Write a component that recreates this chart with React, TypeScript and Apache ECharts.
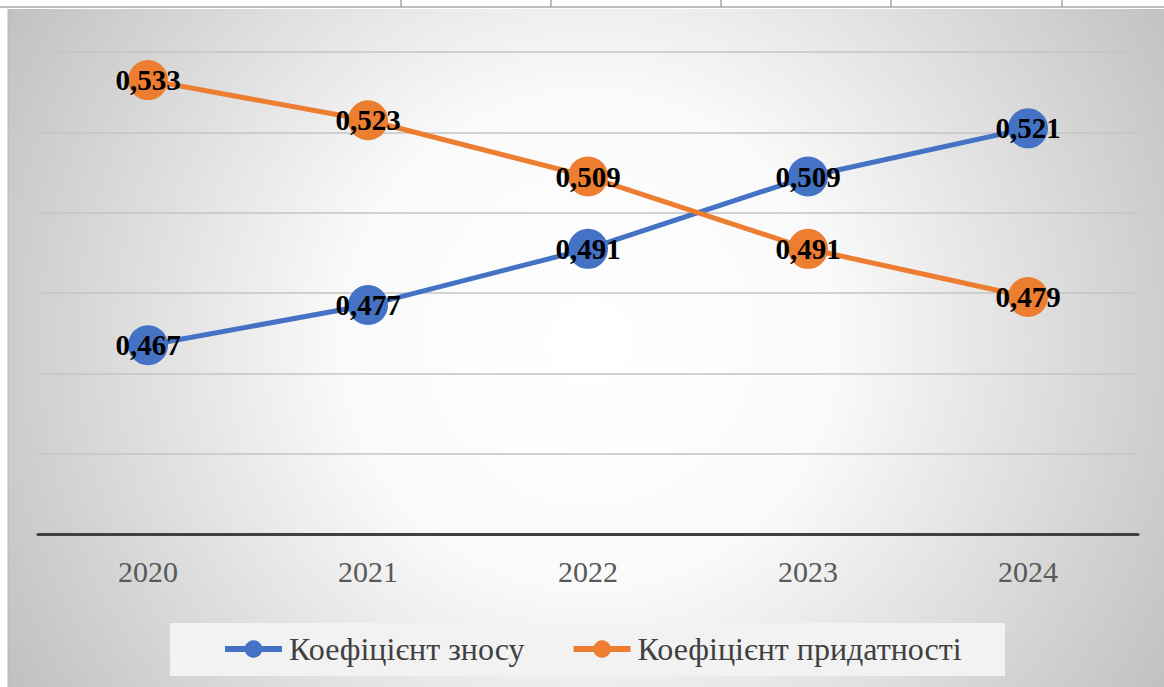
import React, { useEffect, useRef } from "react";
import * as echarts from "echarts";

const years = ["2020", "2021", "2022", "2023", "2024"];
const wearValues = [0.467, 0.477, 0.491, 0.509, 0.521];
const fitnessValues = [0.533, 0.523, 0.509, 0.491, 0.479];
const seriesNames = ["Коефіцієнт зносу", "Коефіцієнт придатності"];
const tableLinesX = [401, 551, 721, 891, 1062];

const SERIF = "'Liberation Serif', 'Times New Roman', serif";

export default function App() {
  const ref = useRef<HTMLDivElement>(null);
  useEffect(() => {
    if (!ref.current) return;
    const chart = echarts.init(ref.current, null, { renderer: "svg" });
    const fmt = (p: any) => Number(p.value).toFixed(3).replace(".", ",");
    const mkSeries = (name: string, data: number[], color: string) => ({
      name,
      type: "line",
      data,
      symbol: "circle",
      symbolSize: 40,
      itemStyle: { color },
      lineStyle: { color, width: 5 },
      label: {
        show: true,
        position: "inside",
        formatter: fmt,
        color: "#000",
        fontFamily: SERIF,
        fontWeight: "bold",
        fontSize: 29,
      },
    });
    chart.setOption({
      animation: false,
      graphic: [
        {
          type: "rect",
          z: -10,
          silent: true,
          shape: { x: 8, y: 9, width: 1156, height: 678 },
          style: {
            fill: new echarts.graphic.RadialGradient(
              590,
              340,
              700,
              [
                { offset: 0, color: "#ffffff" },
                { offset: 0.35, color: "#fafafa" },
                { offset: 1, color: "#bdbdbd" },
              ],
              true
            ),
          },
        },
        {
          type: "line",
          z: -9,
          silent: true,
          shape: { x1: 8, y1: 9, x2: 8, y2: 687 },
          style: { stroke: "#b8b8b8", lineWidth: 1 },
        },
        {
          type: "rect",
          z: -5,
          silent: true,
          shape: { x: 170, y: 623, width: 835, height: 53 },
          style: { fill: "#f2f2f2" },
        },
        {
          type: "line",
          z: -9,
          silent: true,
          shape: { x1: 0, y1: 7, x2: 1164, y2: 7 },
          style: { stroke: "#a6a6a6", lineWidth: 1.5 },
        },
        ...tableLinesX.map((x) => ({
          type: "line",
          z: -9,
          silent: true,
          shape: { x1: x, y1: 0, x2: x, y2: 7 },
          style: { stroke: "#a6a6a6", lineWidth: 1.5 },
        })),
      ],
      grid: { left: 38, right: 26, top: 52, bottom: 153 },
      legend: {
        data: seriesNames,
        left: 222,
        top: 633,
        padding: 0,
        itemWidth: 57,
        itemHeight: 22,
        itemGap: 46,
        lineStyle: { width: 6 },
        textStyle: {
          fontFamily: SERIF,
          fontSize: 32,
          color: "#404040",
          padding: [0, 0, 0, 2],
        },
      },
      xAxis: {
        type: "category",
        data: years,
        boundaryGap: true,
        axisLine: { lineStyle: { color: "#404040", width: 3 } },
        axisTick: { show: false },
        axisLabel: {
          fontFamily: SERIF,
          fontSize: 30,
          color: "#595959",
          margin: 22,
        },
      },
      yAxis: {
        type: "value",
        min: 0.42,
        max: 0.54,
        interval: 0.02,
        axisLabel: { show: false },
        axisLine: { show: false },
        axisTick: { show: false },
        splitLine: { lineStyle: { color: "#c4c4c4", width: 1.5 } },
      },
      series: [
        mkSeries(seriesNames[0], wearValues, "#4472C4"),
        mkSeries(seriesNames[1], fitnessValues, "#ED7D31"),
      ],
    });
    return () => chart.dispose();
  }, []);
  return (
    <div
      ref={ref}
      style={{ position: "fixed", left: 0, top: 0, width: 1164, height: 687, background: "#fff" }}
    />
  );
}
